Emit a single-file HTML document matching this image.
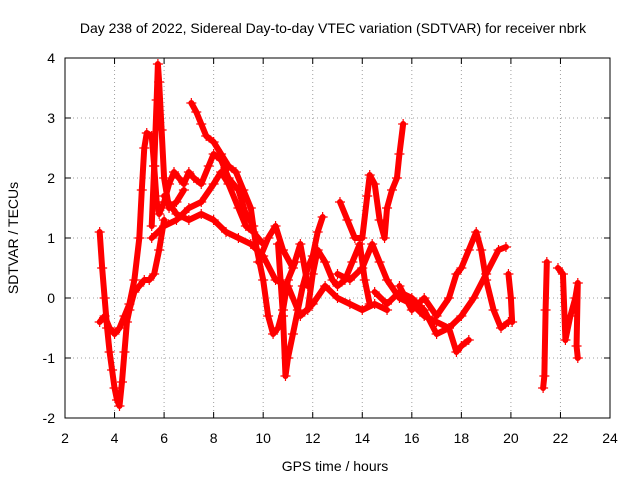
<!DOCTYPE html>
<html><head><meta charset="utf-8"><style>
body{margin:0;background:#fff}
svg{font-family:"Liberation Sans",sans-serif;font-size:14px}
</style></head><body>
<svg id="chart" width="640" height="480">
<text x="333" y="33" text-anchor="middle">Day 238 of 2022, Sidereal Day-to-day VTEC variation (SDTVAR) for receiver nbrk</text>
<text x="335" y="471" text-anchor="middle">GPS time / hours</text>
<text transform="translate(18,238) rotate(-90)" text-anchor="middle">SDTVAR / TECUs</text>
<g id="grid"></g><g id="ticks"></g><g id="series"></g>
<rect x="65" y="58" width="545" height="360" fill="none" stroke="#000"/>
</svg>
<script>
const xTicks=[2,4,6,8,10,12,14,16,18,20,22,24];
const yTicks=[-2,-1,0,1,2,3,4];
const tracks=[
[[3.4,1.1],[3.5,0.5],[3.6,0.0],[3.7,-0.5],[3.8,-0.9],[3.9,-1.2],[4.0,-1.5],[4.1,-1.7],[4.2,-1.8],[4.3,-1.4],[4.4,-0.9],[4.5,-0.4],[4.6,-0.2],[4.8,0.1],[5.0,0.2],[5.2,0.3],[5.4,0.3],[5.6,0.4],[5.8,0.8],[6.0,1.3]],
[[3.4,-0.4],[3.6,-0.3],[3.8,-0.5],[4.0,-0.6],[4.2,-0.5],[4.4,-0.3],[4.6,-0.1],[4.8,0.3],[5.0,1.0],[5.1,1.8],[5.2,2.5],[5.3,2.75],[5.5,2.7],[5.6,2.2],[5.7,1.6],[5.8,1.4],[6.0,1.6],[6.2,1.9],[6.4,2.1],[6.6,2.0],[6.8,1.9],[7.0,2.1],[7.2,2.0],[7.5,1.9],[7.8,2.2],[8.0,2.4],[8.3,2.3],[8.6,2.0],[9.0,1.8],[9.3,1.4],[9.6,1.2]],
[[5.5,1.2],[5.6,2.2],[5.7,3.3],[5.75,3.9],[5.8,3.6],[5.9,2.8],[6.0,2.0],[6.2,1.5],[6.5,1.6],[6.8,1.8]],
[[7.1,3.25],[7.3,3.1],[7.5,2.9],[7.7,2.7],[8.0,2.6],[8.3,2.4],[8.6,2.2],[8.9,2.1],[9.2,1.8],[9.5,1.5],[9.7,0.9],[10.0,0.3],[10.2,-0.3],[10.4,-0.6],[10.6,-0.5],[10.8,-0.2],[11.0,0.3],[11.3,0.6]],
[[5.5,1.0],[6.0,1.2],[6.5,1.3],[7.0,1.5],[7.5,1.6],[8.0,1.9],[8.3,2.1],[8.6,1.9],[9.0,1.5],[9.3,1.2],[9.6,1.1],[10.0,0.9]],
[[6.0,1.7],[6.5,1.4],[7.0,1.3],[7.5,1.4],[8.0,1.3],[8.5,1.1],[9.0,1.0],[9.5,0.9],[10.0,0.7],[10.5,0.3],[11.0,0.2],[11.5,-0.3],[12.0,-0.1],[12.5,0.2],[13.0,0.0],[13.5,-0.1],[14.0,-0.2],[14.5,-0.1],[15.0,-0.2]],
[[10.6,0.9],[10.8,-0.3],[10.9,-1.3],[11.0,-1.0],[11.2,-0.6],[11.4,-0.2],[11.6,0.2],[11.8,0.5],[12.0,0.7],[12.2,1.1],[12.4,1.35]],
[[11.8,-0.2],[12.0,0.4],[12.2,0.8],[12.5,0.6],[12.8,0.3],[13.0,0.2],[13.3,0.3],[13.6,0.6],[13.9,0.9],[14.1,0.3],[14.3,-0.1]],
[[13.1,1.6],[13.4,1.3],[13.7,1.0],[14.0,1.0],[14.2,1.7],[14.3,2.05],[14.5,1.9],[14.7,1.3],[14.9,1.0],[15.0,1.5],[15.2,1.8],[15.4,2.0],[15.5,2.4],[15.65,2.9]],
[[13.0,0.4],[13.5,0.3],[14.0,0.5],[14.4,0.9],[14.7,0.6],[15.0,0.3],[15.5,0.0],[16.0,-0.1],[16.5,-0.3],[17.0,-0.4],[17.5,-0.5],[18.0,-0.3],[18.5,0.0],[19.0,0.4],[19.5,0.8],[19.8,0.85]],
[[14.5,0.1],[15.0,-0.1],[15.5,0.1],[16.0,0.0],[16.5,-0.2],[17.0,-0.6],[17.5,-0.5],[17.8,-0.9],[18.0,-0.8],[18.3,-0.7]],
[[15.5,0.2],[16.0,-0.2],[16.5,0.0],[17.0,-0.3],[17.5,0.0],[17.8,0.4],[18.0,0.5],[18.3,0.8],[18.6,1.1],[18.8,0.8],[19.0,0.3],[19.3,-0.2],[19.6,-0.5],[19.9,-0.4]],
[[9.8,0.6],[10.2,1.0],[10.5,1.2],[10.8,0.8],[11.2,0.5],[11.5,0.9],[11.8,0.2]],
[[19.9,0.4],[20.0,0.0],[20.05,-0.4]],
[[21.3,-1.5],[21.35,-1.3],[21.4,-0.2],[21.45,0.6]],
[[21.9,0.5],[22.1,0.4],[22.2,-0.7],[22.4,-0.3],[22.6,0.0],[22.7,0.25],[22.65,-0.8],[22.7,-1.0]]
];
const NS='http://www.w3.org/2000/svg';
const X=v=>65+(v-2)*545/22, Y=v=>418-(v+2)*60;
const grid=document.getElementById('grid'),tk=document.getElementById('ticks'),sg=document.getElementById('series');
function mk(tag,attrs,parent){const e=document.createElementNS(NS,tag);for(const k in attrs)e.setAttribute(k,attrs[k]);parent.appendChild(e);return e;}
xTicks.forEach(t=>{
 if(t>2&&t<24){const g=mk('line',{x1:X(t),x2:X(t),y1:58,y2:418,stroke:'#a0a0a0','stroke-dasharray':'1,3'},grid);
 
 }
 mk('line',{x1:X(t),x2:X(t),y1:418,y2:412,stroke:'#000'},tk);
 mk('line',{x1:X(t),x2:X(t),y1:58,y2:64,stroke:'#000'},tk);
 const l=mk('text',{x:X(t),y:443,'text-anchor':'middle'},tk);l.textContent=t;
 
 
});
yTicks.forEach(t=>{
 if(t>-2&&t<4){const g=mk('line',{x1:65,x2:610,y1:Y(t),y2:Y(t),stroke:'#a0a0a0','stroke-dasharray':'1,3'},grid);
 
 }
 mk('line',{x1:65,x2:71,y1:Y(t),y2:Y(t),stroke:'#000'},tk);
 mk('line',{x1:610,x2:604,y1:Y(t),y2:Y(t),stroke:'#000'},tk);
 const l=mk('text',{x:55,y:Y(t)+5,'text-anchor':'end'},tk);l.textContent=t;
 
 
});
tracks.forEach((tr,i)=>{
 const pl=mk('polyline',{points:tr.map(p=>X(p[0])+','+Y(p[1])).join(' '),fill:'none',stroke:'#f00','stroke-width':6,'stroke-linejoin':'round','stroke-linecap':'round'},sg);
 
 
 tr.forEach(p=>{
  const m=mk('path',{d:`M${X(p[0])-5},${Y(p[1])}h10M${X(p[0])},${Y(p[1])-5}v10`,stroke:'#f00','stroke-width':1.2},sg);
  
  
 });
});
</script>
</body></html>
